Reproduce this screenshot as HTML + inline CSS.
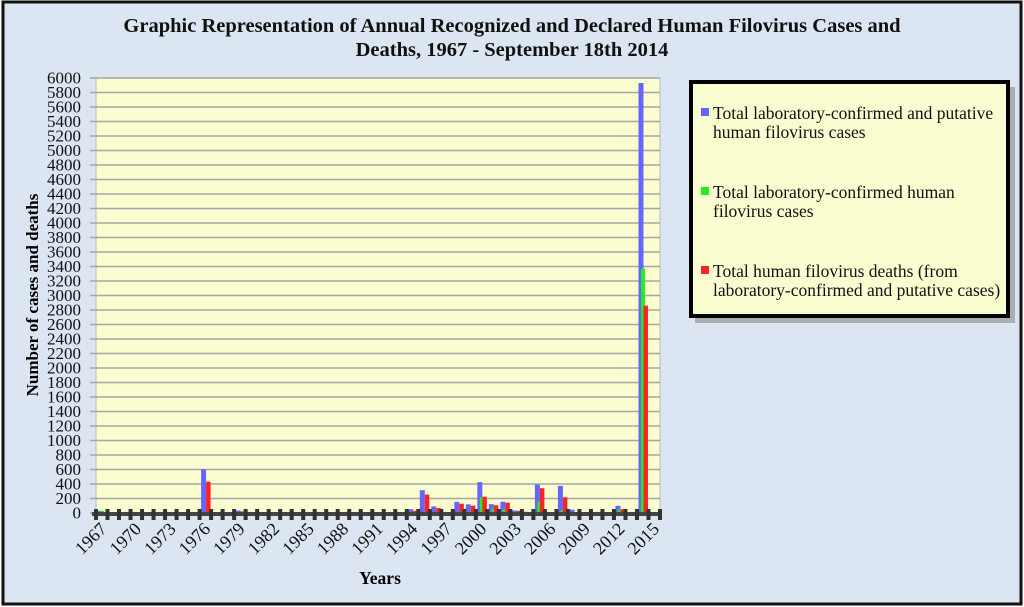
<!DOCTYPE html>
<html><head><meta charset="utf-8"><style>
body{margin:0;background:#fff}
svg{display:block;font-family:"Liberation Serif",serif}
</style></head><body>
<svg width="1024" height="607" viewBox="0 0 1024 607">
<rect x="3" y="2" width="1018" height="602" fill="#dce6f2" stroke="#111" stroke-width="3"/>
<text x="512" y="32" text-anchor="middle" font-weight="bold" font-size="20.5" fill="#111">Graphic Representation of Annual Recognized and Declared Human Filovirus Cases and</text>
<text x="512" y="56" text-anchor="middle" font-weight="bold" font-size="20.5" fill="#111">Deaths, 1967 - September 18th 2014</text>
<rect x="96" y="78" width="564" height="435" fill="#fafdd0" stroke="#bbb"/>
<g id="grid"></g>
<g id="bars"></g>
<g id="xaxis"></g>
<text transform="translate(38,295) rotate(-90)" text-anchor="middle" font-weight="bold" font-size="17">Number of cases and deaths</text>
<text x="380" y="584" text-anchor="middle" font-weight="bold" font-size="17.5">Years</text>
<rect x="695" y="87" width="320" height="236" fill="#888" opacity="0.6"/>
<rect x="691" y="82" width="317" height="234" fill="#fafdd0" stroke="#000" stroke-width="4"/>
<g font-size="17.5" fill="#111">
<rect x="701" y="108" width="8" height="8" fill="#6666ff"/>
<text x="713" y="119">Total laboratory-confirmed and putative</text>
<text x="713" y="138">human filovirus cases</text>
<rect x="701" y="187" width="8" height="8" fill="#22ee22"/>
<text x="713" y="198">Total laboratory-confirmed human</text>
<text x="713" y="217">filovirus cases</text>
<rect x="701" y="266" width="8" height="8" fill="#ff2222"/>
<text x="713" y="277">Total human filovirus deaths (from</text>
<text x="713" y="296">laboratory-confirmed and putative cases)</text>
</g>
</svg>
<script>
const years = [];
for (let y = 1967; y <= 2015; y++) years.push(y);
const yTicks = [0,200,400,600,800,1000,1200,1400,1600,1800,2000,2200,2400,2600,2800,3000,3200,3400,3600,3800,4000,4200,4400,4600,4800,5000,5200,5400,5600,5800,6000];
const xLabels = [1967,1970,1973,1976,1979,1982,1985,1988,1991,1994,1997,2000,2003,2006,2009,2012,2015];
const caseYears = [1967,1975,1976,1977,1979,1980,1987,1994,1995,1996,1998,1999,2000,2001,2002,2003,2004,2005,2007,2008,2012,2014];
const totalCases = [31,3,603,1,34,2,1,52,315,91,154,120,425,122,155,35,17,392,374,47,99,5931];
const confirmedCases = [31,3,0,1,2,2,1,0,0,0,10,20,219,60,50,10,10,158,40,10,50,3370];
const deaths = [7,2,431,1,22,1,1,31,254,68,128,100,224,106,142,29,7,342,217,9,51,2860];

const NS = "http://www.w3.org/2000/svg";
const X0 = 96, X1 = 660, Y0 = 513, Y1 = 78, YMAX = 6000;
const cw = (X1 - X0) / years.length;
const yS = v => Y0 - v / YMAX * (Y0 - Y1);
const xS = yr => X0 + (yr - years[0]) * cw;
function mk(tag, attrs, parent) {
  const e = document.createElementNS(NS, tag);
  for (const k in attrs) e.setAttribute(k, attrs[k]);
  parent.appendChild(e);
  return e;
}
const grid = document.getElementById('grid');
yTicks.forEach(t => {
  const l = mk('line', {x1: 90, x2: X1, y1: yS(t), y2: yS(t), stroke: '#a6a6a6', 'stroke-width': 1.5}, grid);
  
  
  const tx = mk('text', {x: 81, y: yS(t) + 5.5, 'text-anchor': 'end', 'font-size': 17, fill: '#111'}, grid);
  tx.textContent = t;
  
  
});
const bars = document.getElementById('bars');
const series = [[totalCases, '#6666ff', 1.5, 5, 'cases'], [confirmedCases, '#22ee22', 4, 4, 'confirmed'], [deaths, '#ff2222', 6.5, 4.5, 'deaths']];
series.forEach(([vals, col, off, w, nm]) => {
  caseYears.forEach((yr, i) => {
    const v = vals[i];
    if (!v) return;
    const r = mk('rect', {x: xS(yr) + off, y: yS(v), width: w, height: Y0 - yS(v), fill: col}, bars);
    
    
  });
});
const xa = document.getElementById('xaxis');
const ax = mk('line', {x1: X0 - 4, x2: X1 + 2, y1: Y0 + 1, y2: Y0 + 1, stroke: '#444', 'stroke-width': 4}, xa);


for (let i = 0; i <= years.length; i++) {
  const tk = mk('rect', {x: X0 + i * cw - 2, y: Y0 - 4, width: 4, height: 11, fill: '#333'}, xa);
  
  
}
xLabels.forEach(yr => {
  const cx = xS(yr) + cw / 2 + 6;
  const t = mk('text', {x: cx, y: 530, 'text-anchor': 'end', 'font-size': 18, fill: '#111', transform: `rotate(-45 ${cx} 530)`}, xa);
  t.textContent = yr;
  
  
});
</script>
</body></html>
